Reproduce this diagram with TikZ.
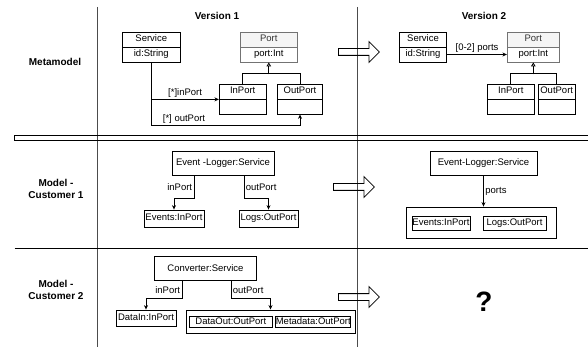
\documentclass[tikz,border=0pt]{standalone}
\usepackage{fontspec}
\setmainfont{Liberation Sans}
\usetikzlibrary{positioning,shapes.arrows,arrows.meta}

\tikzset{
  cls/.style={draw, minimum height=15pt, inner sep=0pt, text height=7pt, text depth=2pt,
    font=\fontsize{9.5}{11}\selectfont},
  portcls/.style={cls, draw=black!55},
  obj/.style={draw, inner sep=0pt, text height=7pt, text depth=2pt,
    font=\fontsize{9.5}{11}\selectfont},
  lbl/.style={font=\fontsize{9.5}{11}\selectfont, inner sep=1.5pt},
  rowhead/.style={font=\bfseries\fontsize{10}{12}\selectfont, align=center},
  conn/.style={-{Stealth[length=4.5pt,width=4pt]}},
  inh/.style={-{Triangle[open,length=4pt,width=4.5pt]}},
  evolve/.style={single arrow, draw, single arrow head extend=7pt, minimum height=41pt,
    inner xsep=0pt, inner ysep=3pt, text height=0pt, text depth=0pt}
}

\begin{document}
\begin{tikzpicture}[x=1pt, y=-1pt, line width=0.8pt]
  \useasboundingbox (0,0) rectangle (588,347);

  % Table frame
  \draw[black!70] (97,7) -- (97,347);
  \draw[black!70] (357,7) -- (357,347);
  \draw (14.5,135) rectangle (590,140);
  \draw (14.5,248) -- (588,248);

  % Column and row headers
  \node[rowhead] (v1) at (217,16) {Version 1};
  \node[rowhead] (v2) at (484,16) {Version 2};
  \node[rowhead] (mm) at (55,62) {Metamodel};
  \node[rowhead] (mc1) at (56,189) {Model -\\Customer 1};
  \node[rowhead] (mc2) at (56,290) {Model -\\Customer 2};

  % Metamodel, version 1
  \node[cls, minimum width=57.5pt] (svcA) at (151.3,39.5) {Service};
  \node[cls, minimum width=57.5pt] (svcB) at (151.3,54.5) {id:String};
  \node[portcls, fill=black!4, text=black!80, minimum width=56.5pt] (portA) at (268.8,39.5) {Port};
  \node[portcls, minimum width=56.5pt] (portB) at (268.8,54.5) {port:Int};
  \node[cls, minimum width=46.7pt] (inA) at (242.7,91.5) {InPort};
  \node[cls, minimum width=46.7pt] (inB) at (242.7,106.5) {};
  \node[cls, minimum width=44.7pt] (outA) at (300,91.5) {OutPort};
  \node[cls, minimum width=44.7pt] (outB) at (300,106.5) {};

  \draw[conn] (svcB.south) |- node[lbl, above, pos=0.75] {[*]inPort} (inA.south west);
  \draw[conn] (svcB.south) -- ++(0,63) -| node[lbl, above, pos=0.11] {[*] outPort} (outB);
  \draw (inA.north) -- ++(0,-10) -| (outA.north);
  \draw[inh] ([yshift=-12pt]portB.south) -- (portB.south);

  \node[evolve, anchor=tail] (ev1) at (338,52) {};

  % Metamodel, version 2
  \node[cls, minimum width=47.5pt] (svc2A) at (423,39.5) {Service};
  \node[cls, minimum width=47.5pt] (svc2B) at (423,54.5) {id:String};
  \node[portcls, fill=black!4, text=black!80, minimum width=52pt] (port2A) at (533.3,39.5) {Port};
  \node[portcls, minimum width=52pt] (port2B) at (533.3,54.5) {port:Int};
  \node[cls, minimum width=47pt] (in2A) at (510.8,91.5) {InPort};
  \node[cls, minimum width=47pt] (in2B) at (510.8,106.5) {};
  \node[cls, minimum width=37pt] (out2A) at (556.7,91.5) {OutPort};
  \node[cls, minimum width=37pt] (out2B) at (556.7,106.5) {};

  \draw[conn] (svc2B.east) -- node[lbl, above] {[0-2] ports} (port2B.west);
  \draw (in2A.north) -- ++(0,-10) -| (out2A.north);
  \draw[inh] ([yshift=-12pt]port2B.south) -- (port2B.south);

  % Customer 1, version 1
  \node[obj, minimum width=102pt, minimum height=24pt] (el) at (223,163) {Event -Logger:Service};
  \node[obj, minimum width=60pt, minimum height=17pt] (ev) at (174,218.5) {Events:InPort};
  \node[obj, minimum width=59pt, minimum height=17pt] (lg) at (268.5,218.5) {Logs:OutPort};
  \draw[conn] ([xshift=-29pt]el.south) -- node[lbl, left] {inPort} ++(0,23) -| (ev);
  \draw[conn] ([xshift=21pt]el.south) -- node[lbl, right] {outPort} ++(0,23) -| (lg);

  \node[evolve, anchor=tail] (ev2) at (333,187) {};

  % Customer 1, version 2
  \node[obj, minimum width=107pt, minimum height=24pt] (el2) at (483.5,163) {Event-Logger:Service};
  \node[obj, minimum width=150pt, minimum height=31pt] (grp) at (481,222.5) {};
  \node[obj, minimum width=58pt, minimum height=14pt] (evn2) at (441,223) {Events:InPort};
  \node[obj, minimum width=63pt, minimum height=14pt] (lg2) at (514.5,223) {Logs:OutPort};
  \draw[conn] (el2.south) -- node[lbl, right] {ports} (el2.south |- grp.north);

  % Customer 2, version 1
  \node[obj, minimum width=102.5pt, minimum height=24.5pt] (cv) at (205.5,268.5) {Converter:Service};
  \node[obj, minimum width=60pt, minimum height=16pt] (di) at (146,318) {DataIn:InPort};
  \node[obj, minimum width=169pt, minimum height=23.5pt] (grp2) at (270.5,321.7) {};
  \node[obj, minimum width=83.7pt, minimum height=11pt] (dout) at (230.8,322) {DataOut:OutPort};
  \node[obj, minimum width=74.7pt, minimum height=11pt] (md) at (313.3,322) {Metadata:OutPort};
  \draw[conn] ([xshift=-23.5pt]cv.south) -- node[lbl, left] {inPort} ++(0,17.5) -| (di);
  \draw[conn] ([xshift=25.5pt]cv.south) -- node[lbl, right] {outPort} ++(0,17.5) -| (grp2);

  \node[evolve, anchor=tail] (ev3) at (338,297) {};

  % Customer 2, version 2 is still open
  \node[font=\bfseries\fontsize{28}{30}\selectfont] (q) at (484,302) {?};
\end{tikzpicture}
\end{document}
